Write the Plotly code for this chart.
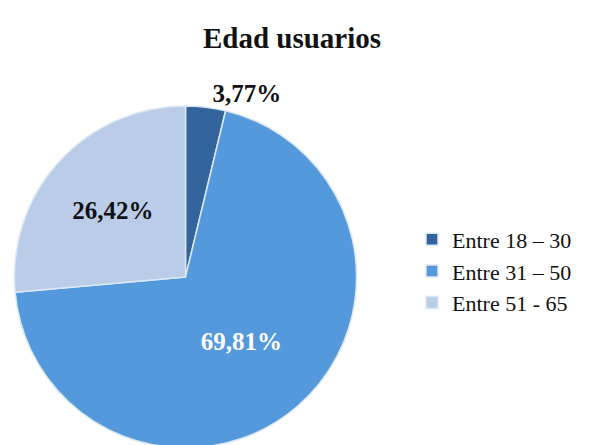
import plotly.graph_objects as go

categories = ["Entre 18 – 30", "Entre 31 – 50", "Entre 51 - 65"]
values = [3.77, 69.81, 26.42]
labels_text = ["3,77%", "69,81%", "26,42%"]

colors = ["#33649c", "#5499dc", "#b9cde9"]
text_colors = ["#111111", "#ffffff", "#111111"]

fig = go.Figure(go.Pie(
    labels=categories,
    values=values,
    text=["<b>" + t + "</b>" for t in labels_text],
    textinfo="text",
    textposition=["outside", "inside", "inside"],
    insidetextorientation="horizontal",
    sort=False,
    direction="clockwise",
    rotation=0,
    marker=dict(colors=colors, line=dict(color="#dce8f6", width=1.5)),
    textfont=dict(family="Liberation Serif", size=25, color=text_colors),
    outsidetextfont=dict(family="Liberation Serif", size=25, color="#111111"),
    domain=dict(x=[5/595, 350/595], y=[0.0, 1 - 99/445]),
    hoverinfo="label+percent",
))

fig.update_layout(
    width=595, height=445,
    margin=dict(l=0, r=0, t=0, b=0),
    paper_bgcolor="white",
    title=dict(text="<b>Edad usuarios</b>", x=284/595, xanchor="center", y=1 - 30/445, yanchor="middle",
               font=dict(family="Liberation Serif", size=29, color="#111111")),
    legend=dict(x=404/595, y=1 - 266/445, xanchor="left", yanchor="middle",
                font=dict(family="Liberation Serif", size=22, color="#111111"),
                itemwidth=30, tracegroupgap=0),
    showlegend=True,
)

fig.write_html("out.html")
